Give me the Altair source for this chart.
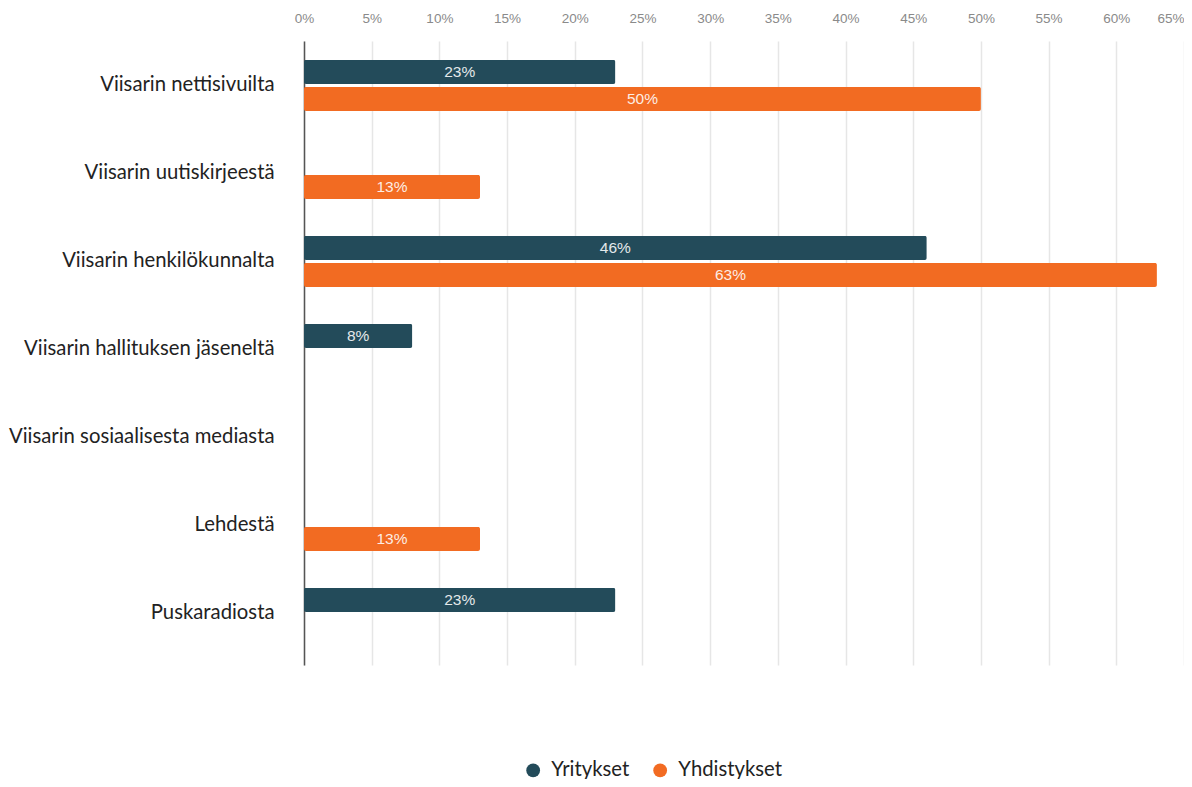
import altair as alt
import pandas as pd

categories = [
    "Viisarin nettisivuilta",
    "Viisarin uutiskirjeestä",
    "Viisarin henkilökunnalta",
    "Viisarin hallituksen jäseneltä",
    "Viisarin sosiaalisesta mediasta",
    "Lehdestä",
    "Puskaradiosta",
]
series = ["Yritykset", "Yhdistykset"]
yritykset = [23, 0, 46, 8, 0, 0, 23]
yhdistykset = [50, 13, 63, 0, 0, 13, 0]
x_ticks = list(range(0, 70, 5))
colors = ["#234b5a", "#f26b22"]

rows = []
for c, a, b in zip(categories, yritykset, yhdistykset):
    rows.append({"cat": c, "series": series[0], "value": a})
    rows.append({"cat": c, "series": series[1], "value": b})
df = pd.DataFrame(rows)

y_enc = alt.Y(
    "cat:N",
    sort=categories,
    scale=alt.Scale(domain=categories, paddingInner=0.42, paddingOuter=0.2555, align=0.42),
    axis=alt.Axis(
        title=None,
        domain=True,
        domainColor="#555555",
        domainWidth=1.5,
        ticks=False,
        labelFont="Lato",
        labelFontSize=20.3,
        labelColor="#222222",
        labelPadding=30,
        labelLimit=400,
    ),
)
yoff_enc = alt.YOffset(
    "series:N",
    sort=series,
    scale=alt.Scale(domain=series, paddingInner=0.111, paddingOuter=0),
)
x_enc = alt.X(
    "value:Q",
    scale=alt.Scale(domain=[0, 65], nice=False),
    axis=alt.Axis(
        orient="top",
        title=None,
        values=x_ticks,
        labelExpr="datum.value + '%'",
        grid=True,
        gridColor="#e6e6e6",
        gridWidth=1.5,
        domain=False,
        ticks=False,
        labelColor="#8a8a8a",
        labelFont="Liberation Sans",
        labelFontSize=13.5,
        labelPadding=16,
        labelAlign=alt.expr("datum.value == 65 ? 'right' : 'center'"),
    ),
)

base = alt.Chart(df).transform_filter("datum.value > 0")

bars = base.mark_bar(cornerRadius=2).encode(
    y=y_enc,
    yOffset=yoff_enc,
    x=x_enc,
    color=alt.Color(
        "series:N",
        sort=series,
        scale=alt.Scale(domain=series, range=colors),
        legend=alt.Legend(
            title=None,
            orient="none",
            direction="horizontal",
            legendX=219,
            legendY=719,
            symbolType="circle",
            symbolSize=190,
            symbolStrokeWidth=0,
            labelFont="Lato",
            labelFontSize=20.3,
            labelColor="#222222",
            columnPadding=20,
            labelOffset=8,
        ),
    ),
)

labels = base.transform_calculate(mid="datum.value / 2", txt="datum.value + '%'").mark_text(
    font="Liberation Sans", fontSize=15.5, color="#ffffff", opacity=0.88
).encode(
    y=alt.Y("cat:N", sort=categories, scale=alt.Scale(domain=categories)),
    yOffset=alt.YOffset("series:N", sort=series, scale=alt.Scale(domain=series)),
    x=alt.X("mid:Q"),
    text="txt:N",
)

chart = (
    alt.layer(bars, labels)
    .properties(
        width=880,
        height=624,
        autosize=alt.AutoSizeParams(type="none"),
        padding={"left": 296, "top": 33, "right": 0, "bottom": 114},
    )
    .configure(background="#ffffff")
    .configure_view(stroke=None)
)

chart.save("out.html", embed_options={"renderer": "svg", "actions": False})
